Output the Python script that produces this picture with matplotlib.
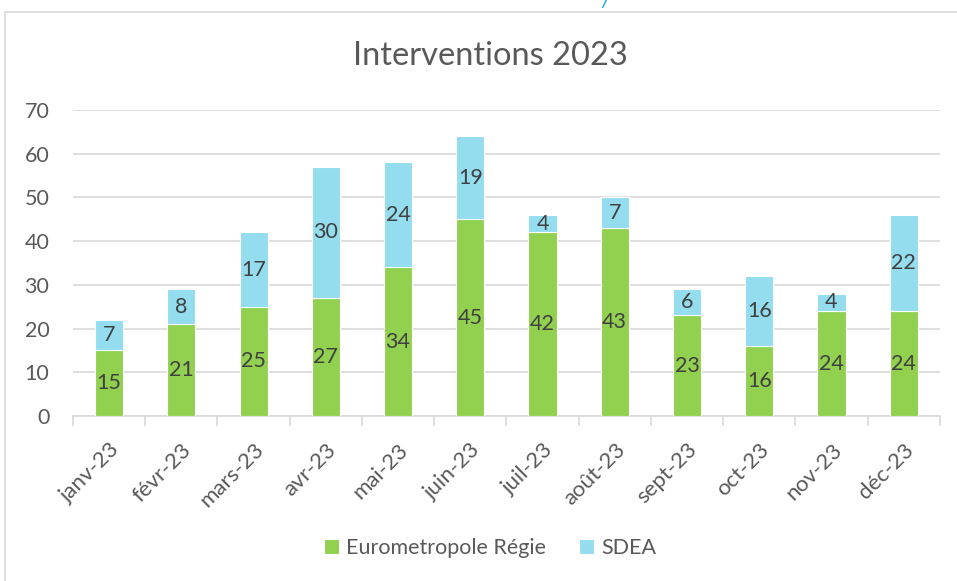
import numpy as np
import matplotlib.pyplot as plt
from matplotlib.patches import Rectangle

months = ['janv-23', 'févr-23', 'mars-23', 'avr-23', 'mai-23', 'juin-23',
          'juil-23', 'août-23', 'sept-23', 'oct-23', 'nov-23', 'déc-23']
regie = [15, 21, 25, 27, 34, 45, 42, 43, 23, 16, 24, 24]
sdea = [7, 8, 17, 30, 24, 19, 4, 7, 6, 16, 4, 22]

GREEN = '#92D050'
BLUE = '#93DDEE'
GREY = '#595959'
FS = 15.5

plt.rcParams['font.family'] = ['Lato', 'DejaVu Sans']

fig = plt.figure(figsize=(9.57, 5.81), dpi=100)
ax = fig.add_axes([0.0763, 0.284, 0.9057, 0.5267])

x = np.arange(len(months))
b1 = ax.bar(x, regie, width=0.39, color=GREEN, edgecolor='white', linewidth=0.8,
            label='Eurometropole Régie', zorder=3)
b2 = ax.bar(x, sdea, width=0.39, bottom=regie, color=BLUE, edgecolor='white',
            linewidth=0.8, label='SDEA', zorder=3)
ax.bar_label(b1, label_type='center', fontsize=FS, color='#404040')
ax.bar_label(b2, label_type='center', fontsize=FS, color='#404040')

ax.set_xlim(-0.5, len(months) - 0.5)
ax.set_ylim(0, 70)
ax.set_yticks(range(0, 71, 10))
ax.yaxis.grid(True, color='#D9D9D9', linewidth=1.2, zorder=0)
ax.set_axisbelow(True)

ax.set_xticks(x)
ax.set_xticklabels(months, rotation=45, ha='right', rotation_mode='anchor')
ax.set_xticks(np.arange(-0.5, len(months)), minor=True)
ax.tick_params(axis='x', which='major', length=0, pad=17, labelsize=16, labelcolor=GREY)
ax.tick_params(axis='x', which='minor', length=7, color='#D9D9D9', width=1.2)
ax.tick_params(axis='y', length=0, pad=17, labelsize=FS, labelcolor=GREY)

for s in ['top', 'right', 'left']:
    ax.spines[s].set_visible(False)
ax.spines['bottom'].set_color('#D9D9D9')
ax.spines['bottom'].set_linewidth(1.2)

fig.text(0.512, 0.903, 'Interventions 2023', ha='center', va='center',
         fontsize=23.5, color=GREY)

fig.legend(loc='center', bbox_to_anchor=(0.512, 0.057), ncol=2, frameon=False,
           fontsize=FS, labelcolor=GREY, handlelength=0.7, handleheight=0.7,
           handletextpad=0.35, columnspacing=1.5)

fig.patches.append(Rectangle((5 / 957, -0.05), 1.0, 1.05 - 12 / 581,
                             transform=fig.transFigure, fill=False,
                             edgecolor='#D9D9D9', linewidth=1.2))
fig.text(0.632, 0.995, '/', ha='center', va='center', fontsize=11,
         color='#0EA5F0', fontstyle='italic', fontweight='bold')

fig.savefig('out.png', dpi=100)
